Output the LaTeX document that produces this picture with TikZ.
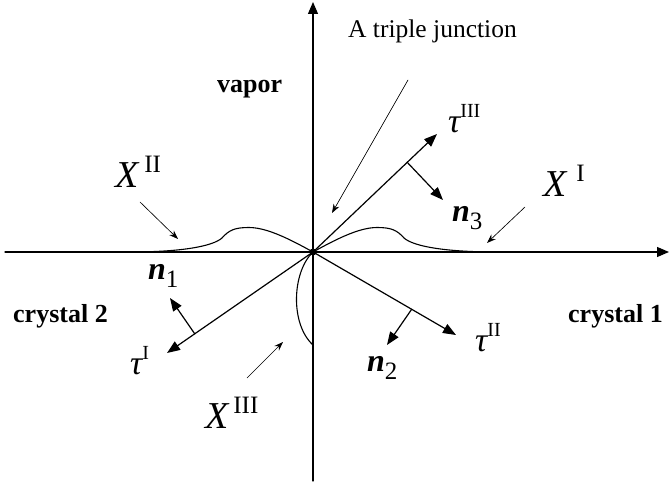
\documentclass[tikz,border=0pt]{standalone}
\usepackage{fontspec}
\setmainfont{Liberation Serif}
\usetikzlibrary{arrows.meta,calc}
\tikzset{
 junc/.style={x=1pt,y=1pt,line cap=round,line join=round},
 axis/.style={draw=black,line width=1.2pt,-{Triangle[length=12pt,width=10pt]}},
 vec/.style={draw=black,line width=1.2pt,-{Triangle[length=13pt,width=10pt]}},
 pointer/.style={draw=black,line width=.65pt,-{Stealth[length=9pt,width=6.5pt]}},
 front/.style={draw=black,line width=1.1pt},
 dot/.style={circle,fill=black,inner sep=0pt,minimum size=7pt},
 phase/.style={font=\fontsize{26}{26}\selectfont\bfseries,inner sep=0pt,anchor=base west},
 caption/.style={font=\fontsize{25.5}{25.5}\selectfont,inner sep=0pt,anchor=base west},
 sym/.style={inner sep=0pt,anchor=base west}
}
\newcommand{\bigX}[2]{{\fontsize{38}{38}\selectfont\itshape X}\hspace{#1}\raisebox{15pt}{\fontsize{25}{25}\selectfont #2}}
\newcommand{\tauv}[1]{{\fontsize{34}{34}\selectfont\itshape τ}\raisebox{15pt}{\fontsize{20}{20}\selectfont #1}}
\newcommand{\nv}[1]{{\fontsize{32}{32}\selectfont\bfseries\itshape n}\raisebox{-8pt}{\fontsize{25}{25}\selectfont #1}}
\begin{document}
\begin{tikzpicture}[junc]
 \useasboundingbox (-313,-235) rectangle (357,252);
 % axes
 \coordinate (O) at (0,0);
 \coordinate (xL) at (-308,0); \coordinate (xR) at (356,0);
 \coordinate (yB) at (0,-229); \coordinate (yT) at (0,250);
 \draw[axis] (xL)--(xR); \draw[axis] (yB)--(yT);
 % tangents and normals
 \coordinate (t1) at (-146,-101); \coordinate (t2) at (143,-83); \coordinate (t3) at (124,118);
 \coordinate (b1) at ($(O)!.81!(t1)$); \coordinate (b2) at ($(O)!.69!(t2)$); \coordinate (b3) at ($(O)!.76!(t3)$);
 \coordinate (m1) at (-143,-46); \coordinate (m2) at (74,-93); \coordinate (m3) at (130,52);
 \draw[vec] (O)--(t1); \draw[vec] (O)--(t2); \draw[vec] (O)--(t3);
 \draw[vec] (b1)--(m1); \draw[vec] (b2)--(m2); \draw[vec] (b3)--(m3);
 % interface profiles
 \draw[front] (-183,0) .. controls (-130,0) and (-100,6) .. (-91,14)
   .. controls (-84,22) and (-78,24.5) .. (-64,24.5) .. controls (-45,24.5) and (-20,11) .. (O);
 \draw[front] (O) .. controls (20,11) and (45,24.5) .. (64,24.5)
   .. controls (78,24.5) and (84,22) .. (91,14) .. controls (100,6) and (130,0) .. (184,0);
 \draw[front] (O) .. controls (-21,-20) and (-23,-72) .. (0,-93);
 \node[dot] (J) at (O) {};
 % labels
 \node[caption] (tj) at (35,214) {A triple junction};
 \node[phase] (vap) at (-96,159) {vapor};
 \node[phase] (c2) at (-300,-71) {crystal 2};
 \node[phase] (c1) at (255,-71) {crystal 1};
 \node[sym] (X2) at (-198,64) {\bigX{6pt}{II}};
 \node[sym] (X1) at (230,55) {\bigX{10pt}{I}};
 \node[sym] (X3) at (-108,-177) {\bigX{5pt}{III}};
 \node[sym] (T3) at (135,119) {\tauv{III}};
 \node[sym] (T1) at (-183,-123) {\tauv{I}};
 \node[sym] (T2) at (162,-100) {\tauv{II}};
 \node[sym] (N3) at (139,30) {\nv{3}};
 \node[sym] (N1) at (-165,-28) {\nv{1}};
 \node[sym] (N2) at (54,-120) {\nv{2}};
 % pointers
 \coordinate (p0) at (95,172); \coordinate (q0) at (19,39);
 \coordinate (p1) at (212,45); \coordinate (q1) at (174,9);
 \coordinate (p2) at (-173,50); \coordinate (q2) at (-135,13);
 \coordinate (p3) at (-66,-126); \coordinate (q3) at (-30,-90);
 \draw[pointer] (p0)--(q0); \draw[pointer] (p1)--(q1);
 \draw[pointer] (p2)--(q2); \draw[pointer] (p3)--(q3);
\end{tikzpicture}
\end{document}
